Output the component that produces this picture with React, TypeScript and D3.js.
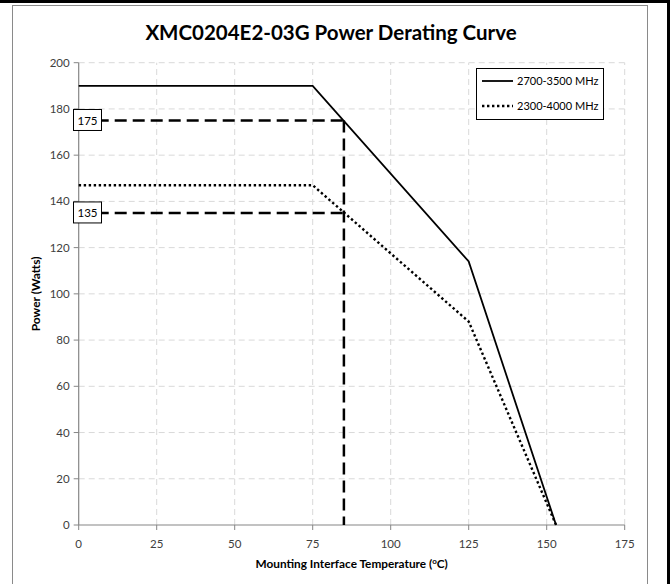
import React from "react";
import * as d3 from "d3";

const temps = [0, 75, 125, 153];
const power2700 = [190, 190, 114, 0];
const power2300 = [147, 147, 88, 0];
const refTemp = 85;
const refPowers = [175, 135];
const xTicks = [0, 25, 50, 75, 100, 125, 150, 175];
const yTicks = [0, 20, 40, 60, 80, 100, 120, 140, 160, 180, 200];
const seriesNames = ["2700-3500 MHz", "2300-4000 MHz"];

const W = 670;
const H = 584;
const FONT = "Lato, 'Open Sans', sans-serif";

export default function App() {
  const x = d3.scaleLinear().domain([0, 175]).range([78.7, 624.7]);
  const y = d3.scaleLinear().domain([0, 200]).range([525, 62.7]);
  const line = d3
    .line<[number, number]>()
    .x((d) => x(d[0]))
    .y((d) => y(d[1]));
  const dA = line(temps.map((t, i) => [t, power2700[i]] as [number, number]))!;
  const dB = line(temps.map((t, i) => [t, power2300[i]] as [number, number]))!;

  const axisColor = "#868686";
  const gridColor = "#d9d9d9";
  const textColor = "#404040";

  return (
    <svg
      width={W}
      height={H}
      style={{ position: "absolute", left: 0, top: 0, background: "#fff" }}
      fontFamily={FONT}
    >
      <rect x={0} y={0} width={W} height={H} fill="#fff" />
      {/* outer frame */}
      <rect x={12.5} y={5.5} width={635} height={H} fill="none" stroke="#8a8a8a" strokeWidth={1} />
      <line x1={0} x2={W} y1={1.5} y2={1.5} stroke="#000" strokeWidth={3} />
      <line x1={668.5} x2={668.5} y1={0} y2={H} stroke="#000" strokeWidth={3} />

      {/* title */}
      <text x={331} y={40} textAnchor="middle" fontSize={20.5} fontWeight="bold" fill="#000">
        XMC0204E2-03G Power Derating Curve
      </text>

      {/* grid */}
      {yTicks.filter((t) => t > 0).map((t) => (
        <line key={"gy" + t} x1={x(0)} x2={x(175)} y1={y(t)} y2={y(t)} stroke={gridColor} strokeWidth={1} strokeDasharray="6,4" />
      ))}
      {xTicks.filter((t) => t > 0).map((t) => (
        <line key={"gx" + t} x1={x(t)} x2={x(t)} y1={y(0)} y2={y(200)} stroke={gridColor} strokeWidth={1} strokeDasharray="6,4" />
      ))}

      {/* axes */}
      <line x1={x(0)} x2={x(0)} y1={y(0)} y2={y(200)} stroke={axisColor} strokeWidth={1.2} />
      <line x1={x(0)} x2={x(175)} y1={y(0)} y2={y(0)} stroke={axisColor} strokeWidth={1.2} />
      {yTicks.map((t) => (
        <g key={"ty" + t}>
          <line x1={x(0) - 5} x2={x(0)} y1={y(t)} y2={y(t)} stroke={axisColor} strokeWidth={1} />
          <text x={x(0) - 9} y={y(t)} dy="0.35em" textAnchor="end" fontSize={11.5} fill={textColor}>
            {t}
          </text>
        </g>
      ))}
      {xTicks.map((t) => (
        <g key={"tx" + t}>
          <line x1={x(t)} x2={x(t)} y1={y(0)} y2={y(0) + 5} stroke={axisColor} strokeWidth={1} />
          <text x={x(t)} y={y(0) + 23} textAnchor="middle" fontSize={11.5} fill={textColor}>
            {t}
          </text>
        </g>
      ))}

      {/* axis titles */}
      <text
        transform={`translate(40,${(y(0) + y(200)) / 2}) rotate(-90)`}
        textAnchor="middle"
        fontSize={12}
        fontWeight="bold"
        fill="#000"
      >
        Power (Watts)
      </text>
      <text x={(x(0) + x(175)) / 2} y={568} textAnchor="middle" fontSize={11.8} fontWeight="bold" fill="#000">
        Mounting Interface Temperature (
        <tspan dy={-4} fontSize={8}>o</tspan>
        <tspan dy={4}>C)</tspan>
      </text>

      {/* reference dashed lines */}
      {refPowers.map((p) => (
        <line key={"rh" + p} x1={x(0)} x2={x(refTemp)} y1={y(p)} y2={y(p)} stroke="#000" strokeWidth={2.5} strokeDasharray="12,6" />
      ))}
      <line x1={x(refTemp)} x2={x(refTemp)} y1={y(d3.max(refPowers)!)} y2={y(0)} stroke="#000" strokeWidth={2.5} strokeDasharray="12,6" />

      {/* series */}
      <path d={dA} fill="none" stroke="#000" strokeWidth={1.8} />
      <path d={dB} fill="none" stroke="#000" strokeWidth={2.4} strokeDasharray="2.4,2.6" />

      {/* reference labels */}
      {refPowers.map((p) => (
        <g key={"rl" + p}>
          <rect x={73.5} y={y(p) - 11} width={28} height={21} fill="#fff" stroke="#000" strokeWidth={1} />
          <text x={87.5} y={y(p)} dy="0.35em" textAnchor="middle" fontSize={11.5} fill="#000">
            {p}
          </text>
        </g>
      ))}

      {/* legend */}
      <rect x={476.5} y={68.5} width={127} height={51} fill="#fff" stroke="#000" strokeWidth={1} />
      {seriesNames.map((name, i) => (
        <g key={name}>
          <line
            x1={482}
            x2={513}
            y1={81 + i * 25}
            y2={81 + i * 25}
            stroke="#000"
            strokeWidth={i === 0 ? 1.8 : 2.4}
            strokeDasharray={i === 0 ? undefined : "2.4,2.6"}
          />
          <text x={517} y={81 + i * 25} dy="0.35em" fontSize={11} fill="#000">
            {name}
          </text>
        </g>
      ))}
    </svg>
  );
}
